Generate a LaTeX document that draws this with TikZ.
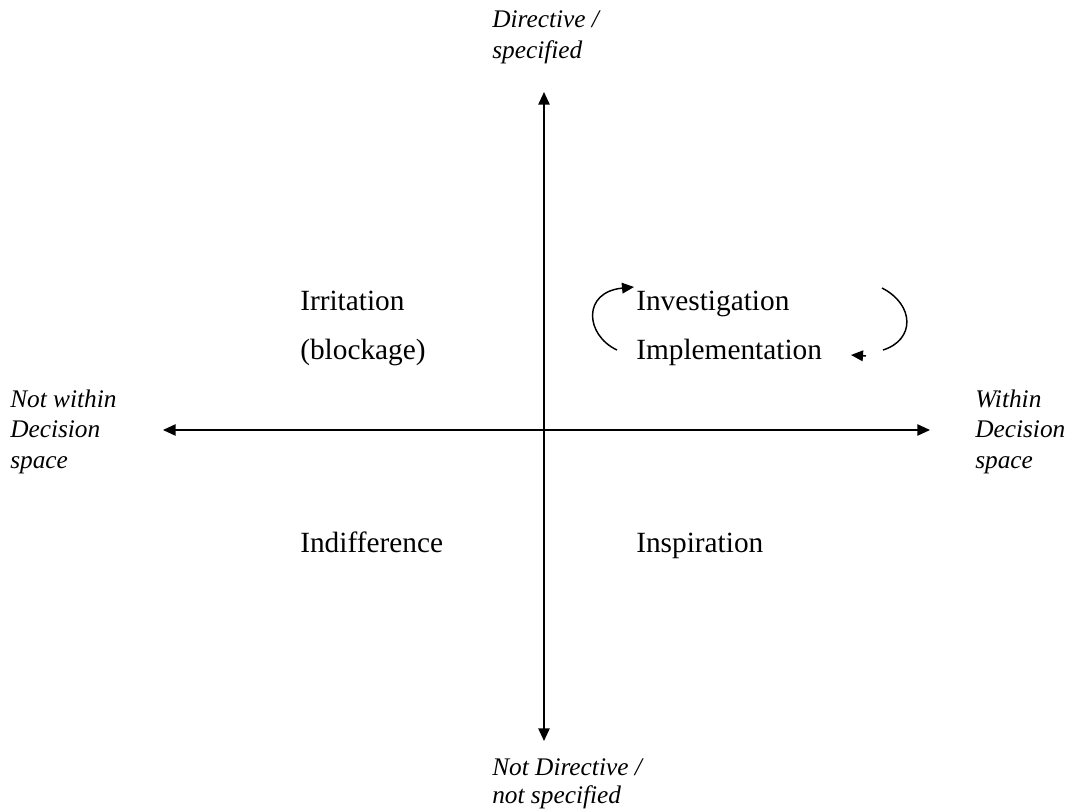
\documentclass[tikz,border=0pt]{standalone}
\usepackage{fontspec}
\setmainfont{Liberation Serif}
\usetikzlibrary{arrows.meta}
\begin{document}
\begin{tikzpicture}[x=0.75pt,y=-0.75pt,
  axis/.style={line width=1.1pt,{Triangle[length=9.5pt,width=8.5pt]}-{Triangle[length=9.5pt,width=8.5pt]}},
  cyc/.style={line width=1.1pt,-{Triangle[length=9pt,width=8pt]}},
  lab/.style={font=\fontsize{19}{23}\selectfont\itshape,anchor=base west,inner sep=0pt},
  quad/.style={font=\fontsize{22}{26}\selectfont,anchor=base west,inner sep=0pt}]
\useasboundingbox (0,0) rectangle (1070,812);
\coordinate (top) at (544,92);
\coordinate (bot) at (544,741);
\coordinate (lft) at (163,430);
\coordinate (rgt) at (930,430);
\draw[axis] (bot) -- (top);
\draw[axis] (lft) -- (rgt);
% axis labels
\node[lab] (t1) at (492,28) {Directive /};
\node[lab] (t2) at (492,59) {specified};
\node[lab] (b1) at (492,775) {Not Directive /};
\node[lab] (b2) at (492,803) {not specified};
\node[lab] (l1) at (10,407) {Not within};
\node[lab] (l2) at (10,437) {Decision};
\node[lab] (l3) at (10,468) {space};
\node[lab] (r1) at (975,407) {Within};
\node[lab] (r2) at (975,437) {Decision};
\node[lab] (r3) at (975,468) {space};
% quadrant labels
\node[quad] (irr) at (300,311) {Irritation};
\node[quad] (blk) at (300,360) {(blockage)};
\node[quad] (inv) at (636,311) {Investigation};
\node[quad] (imp) at (636,360) {Implementation};
\node[quad] (ind) at (300,552) {Indifference};
\node[quad] (ins) at (636,552) {Inspiration};
% cycle arrows
\coordinate (ls) at (617,350);
\coordinate (le) at (634,287);
\coordinate (rs) at (882,288);
\coordinate (re) at (851,355);
\draw[cyc] (ls) .. controls (585,335) and (582,292) .. (le);
\draw[line width=1.1pt] (rs) .. controls (915,305) and (915,340) .. (883,350);
\draw[cyc] (866,356) -- (re);
\end{tikzpicture}
\end{document}
